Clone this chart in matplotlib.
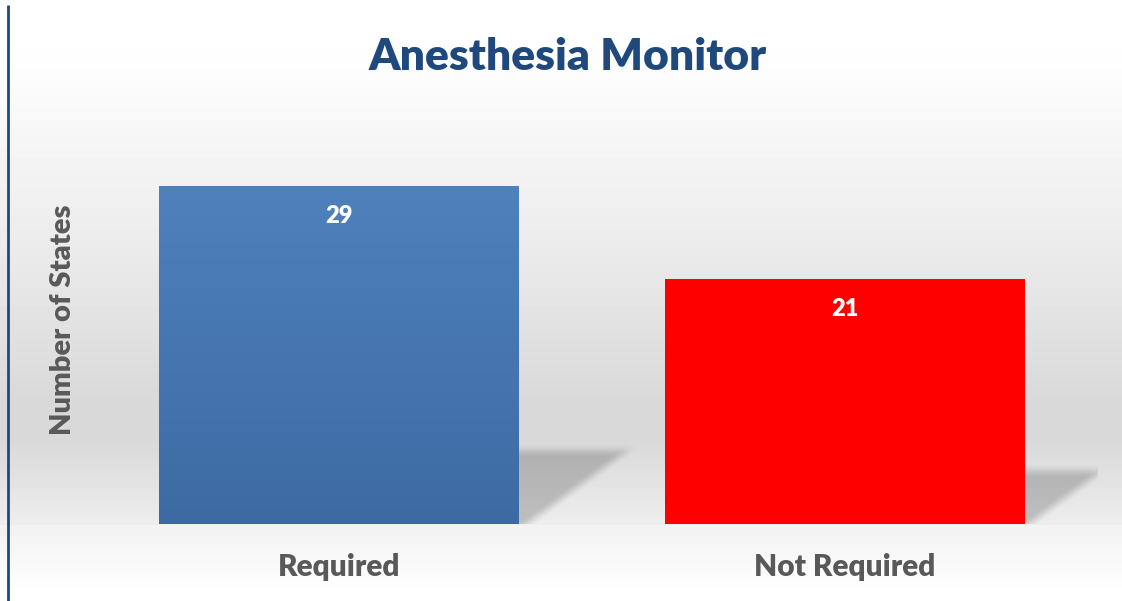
import numpy as np
import matplotlib.pyplot as plt
from matplotlib.colors import LinearSegmentedColormap

plt.rcParams['font.family'] = ['Lato', 'DejaVu Sans']

# data
categories = ['Required', 'Not Required']
states = [29, 21]
bar_colors = ['#4f81bd', '#ff0000']

title_color = '#1f497d'
text_gray = '#595959'

W, H = 1122, 601
fig = plt.figure(figsize=(W / 100, H / 100), dpi=100)

# fond dégradé (blanc -> gris -> blanc)
bg = fig.add_axes([0, 0, 1, 1], zorder=-10)
yy = np.arange(H)
top = np.interp(yy, [0, 60, 240, 400, 440, 524], [1.0, 0.995, 0.925, 0.85, 0.85, 0.93])
bot = np.interp(yy, [525, 540, 595], [0.95, 0.96, 1.0])
g = np.where(yy <= 524, top, bot)
img = np.repeat(g[:, None], W, axis=1)
bg.imshow(img, cmap='gray', vmin=0, vmax=1, aspect='auto', extent=(0, W, H, 0))
bg.set_xlim(0, W)
bg.set_ylim(H, 0)
bg.axis('off')
bg.plot([8, 8], [5, H], color='#1f497d', lw=2, solid_capstyle='butt')

# axe principal
ax = fig.add_axes([86 / W, 77 / H, 1012 / W, 408 / H])
ax.patch.set_alpha(0)
x = np.arange(len(categories))
width = 360 / 506
ax.set_xlim(-0.5, len(categories) - 0.5)
ax.set_ylim(0, 35)

bars = ax.bar(x, states, width=width, color=bar_colors, zorder=3)

# dégradé vertical sur la barre bleue
cm = LinearSegmentedColormap.from_list('bleu', ['#3d6aa3', '#4f81bd'])
b = bars[0]
grad = ax.imshow(np.linspace(0, 1, 256)[::-1, None], cmap=cm, aspect='auto',
                 extent=(b.get_x(), b.get_x() + b.get_width(), 0, b.get_height()),
                 zorder=4, origin='upper')
grad.set_clip_path(b)

# ombres portées (floues)
xs = np.linspace(-0.5, 1.5, 1012)
ys = np.linspace(0, 35, 408)
XX, YY = np.meshgrid(xs, ys)
alpha = np.zeros_like(XX)
px_x = 1 / 506.0
px_y = 35 / 408.0


def smooth(t):
    t = np.clip(t, 0, 1)
    return t * t * (3 - 2 * t)


for xi, v in zip(x, states):
    xr = xi + width / 2
    s = 0.22 * v
    dx = 1.52 * s / px_y * px_x
    # distance au bord haut (px) et à la diagonale (px)
    d_top = (s - YY) / px_y
    xdiag = xr + 0.1 * dx + 0.9 * dx * (YY / s)
    d_diag = (xdiag - XX) / px_x
    a = smooth((d_top + 6) / 14) * smooth((d_diag + 8) / 22) * (XX > xr - px_x)
    a *= (YY >= 0)
    alpha = np.maximum(alpha, a)

shadow = np.zeros(XX.shape + (4,))
shadow[..., 3] = alpha * 0.2
ax.imshow(shadow, extent=(-0.5, 1.5, 0, 35), origin='lower', aspect='auto', zorder=2)
ax.set_xlim(-0.5, 1.5)
ax.set_ylim(0, 35)

for xi, v in zip(x, states):
    ax.annotate(str(v), (xi, v), xytext=(0, -21.6), textcoords='offset points',
                ha='center', va='center', color='white', fontsize=17,
                fontweight='heavy', zorder=5)

ax.set_xticks(x)
ax.set_xticklabels(categories, fontsize=21.5, fontweight='heavy', color=text_gray)
ax.tick_params(axis='x', length=0, pad=21)
ax.set_yticks([])
for sp in ax.spines.values():
    sp.set_visible(False)

ax.text((63 - 86) / 1012, 0.5, 'Number of States', transform=ax.transAxes,
        rotation=90, ha='center', va='center', fontsize=21,
        fontweight='heavy', color=text_gray)

fig.text(568 / W, 1 - 57 / H, 'Anesthesia Monitor', ha='center', va='center',
         fontsize=32, fontweight='heavy', color=title_color)

fig.savefig('out.png', dpi=100)
